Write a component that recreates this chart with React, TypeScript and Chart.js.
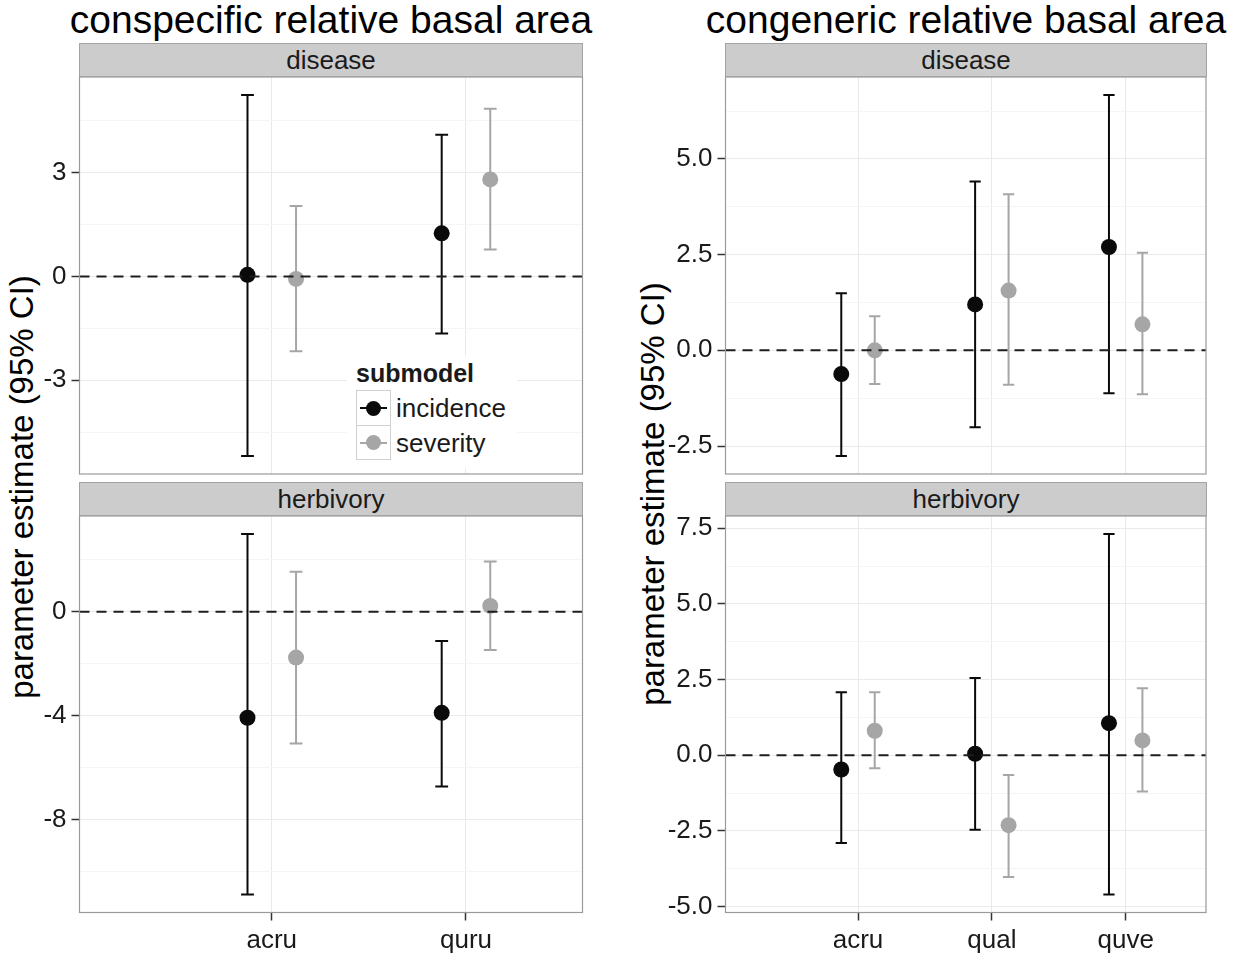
import React, { useEffect, useRef } from 'react';
import { Chart, registerables } from 'chart.js';
Chart.register(...registerables);

const FONT = '"Liberation Sans", Arial, Helvetica, sans-serif';

// ---------- data ----------
const conCats = ['acru', 'quru'];
const congCats = ['acru', 'qual', 'quve'];
const submodels = ['incidence', 'severity'];

// conspecific – disease
const conDisIncEst = [0.05, 1.25];
const conDisIncLo = [-5.19, -1.65];
const conDisIncHi = [5.25, 4.10];
const conDisSevEst = [-0.07, 2.81];
const conDisSevLo = [-2.16, 0.78];
const conDisSevHi = [2.04, 4.85];

// conspecific – herbivory
const conHerIncEst = [-4.08, -3.89];
const conHerIncLo = [-10.89, -6.73];
const conHerIncHi = [3.0, -1.12];
const conHerSevEst = [-1.76, 0.23];
const conHerSevLo = [-5.07, -1.47];
const conHerSevHi = [1.55, 1.94];

// congeneric – disease
const congDisIncEst = [-0.62, 1.2, 2.7];
const congDisIncLo = [-2.76, -2.01, -1.12];
const congDisIncHi = [1.49, 4.41, 6.67];
const congDisSevEst = [0.0, 1.56, 0.68];
const congDisSevLo = [-0.88, -0.9, -1.15];
const congDisSevHi = [0.89, 4.08, 2.55];

// congeneric – herbivory
const congHerIncEst = [-0.47, 0.05, 1.06];
const congHerIncLo = [-2.9, -2.46, -4.6];
const congHerIncHi = [2.08, 2.55, 7.31];
const congHerSevEst = [0.81, -2.31, 0.49];
const congHerSevLo = [-0.43, -4.02, -1.2];
const congHerSevHi = [2.08, -0.65, 2.21];

// tick values / labels
const conDisTicks = [-3, 0, 3];
const conDisTickLabels = ['-3', '0', '3'];
const conDisMinor = [-4.5, -1.5, 1.5, 4.5];
const conHerTicks = [-8, -4, 0];
const conHerTickLabels = ['-8', '-4', '0'];
const conHerMinor = [-10, -6, -2, 2];
const congDisTicks = [-2.5, 0, 2.5, 5];
const congDisTickLabels = ['-2.5', '0.0', '2.5', '5.0'];
const congDisMinor = [-1.25, 1.25, 3.75, 6.25];
const congHerTicks = [-5, -2.5, 0, 2.5, 5, 7.5];
const congHerTickLabels = ['-5.0', '-2.5', '0.0', '2.5', '5.0', '7.5'];
const congHerMinor = [-3.75, -1.25, 1.25, 3.75, 6.25];

// ---------- styles ----------
const BLACK = '#0A0A0A';
const GREY = '#A6A6A6';
const MAJOR = '#EAEAEA';
const MINOR = '#F5F5F5';
const FRAME = '#9A9A9A';
const TEXT = '#1A1A1A';
const DODGE = 0.125;

const errorbarPlugin = {
  id: 'errbars',
  beforeDatasetsDraw(chart: any, _a: any, opts: any) {
    const { ctx } = chart;
    const x = chart.scales.x;
    const y = chart.scales.y;
    chart.data.datasets.forEach((ds: any) => {
      ctx.save();
      ctx.strokeStyle = ds.borderColor;
      ctx.lineWidth = 2;
      ds.data.forEach((p: any, i: number) => {
        const px = x.getPixelForValue(p.x);
        const cw = x.getPixelForValue(p.x + opts.capHalf) - px;
        const yl = y.getPixelForValue(ds.lo[i]);
        const yh = y.getPixelForValue(ds.hi[i]);
        ctx.beginPath();
        ctx.moveTo(px, yl);
        ctx.lineTo(px, yh);
        ctx.moveTo(px - cw, yl);
        ctx.lineTo(px + cw, yl);
        ctx.moveTo(px - cw, yh);
        ctx.lineTo(px + cw, yh);
        ctx.stroke();
      });
      ctx.restore();
    });
  },
};

const zeroLinePlugin = {
  id: 'zeroline',
  afterDatasetsDraw(chart: any) {
    const { ctx, chartArea } = chart;
    const y0 = chart.scales.y.getPixelForValue(0);
    ctx.save();
    ctx.strokeStyle = '#1E1E1E';
    ctx.lineWidth = 2;
    ctx.setLineDash([10, 7]);
    ctx.beginPath();
    ctx.moveTo(chartArea.left, y0);
    ctx.lineTo(chartArea.right, y0);
    ctx.stroke();
    ctx.restore();
  },
};

const framePlugin = {
  id: 'frame',
  afterDraw(chart: any) {
    const { ctx, chartArea } = chart;
    ctx.save();
    ctx.strokeStyle = FRAME;
    ctx.lineWidth = 1.2;
    ctx.strokeRect(chartArea.left, chartArea.top, chartArea.right - chartArea.left, chartArea.bottom - chartArea.top);
    ctx.restore();
  },
};

type FacetProps = {
  cats: string[];
  incEst: number[]; incLo: number[]; incHi: number[];
  sevEst: number[]; sevLo: number[]; sevHi: number[];
  ticks: number[]; tickLabels: string[]; minor: number[];
  showX: boolean;
  capHalf: number;
  left: number; top: number; width: number; height: number;
  yWidth: number; xHeight: number; padTop: number; padBottom: number; padRight: number;
};

function Facet(p: FacetProps) {
  const ref = useRef<HTMLCanvasElement>(null);
  useEffect(() => {
    const all = [...p.incLo, ...p.sevLo, ...p.incHi, ...p.sevHi];
    const lo = Math.min(...all);
    const hi = Math.max(...all);
    const ex = (hi - lo) * 0.05;
    const yTicks = [...p.ticks, ...p.minor].sort((a, b) => a - b);
    const isMajor = (v: number) => p.ticks.some((t) => Math.abs(t - v) < 1e-9);
    const mk = (est: number[], lo: number[], hi: number[], off: number, color: string, label: string) => ({
      label,
      data: p.cats.map((_, i) => ({ x: i + 1 + off, y: est[i] })),
      lo,
      hi,
      backgroundColor: color,
      borderColor: color,
      pointRadius: 8,
      pointBorderWidth: 0,
      pointHoverRadius: 8,
    });
    const chart = new Chart(ref.current as HTMLCanvasElement, {
      type: 'scatter',
      data: {
        datasets: [
          mk(p.incEst, p.incLo, p.incHi, -DODGE, BLACK, submodels[0]),
          mk(p.sevEst, p.sevLo, p.sevHi, DODGE, GREY, submodels[1]),
        ] as any,
      },
      options: {
        animation: false,
        responsive: false,
        events: [],
        layout: { padding: { left: 0, right: p.padRight, top: p.padTop, bottom: p.padBottom } },
        plugins: {
          legend: { display: false },
          tooltip: { enabled: false },
          errbars: { capHalf: p.capHalf },
        } as any,
        scales: {
          x: {
            type: 'linear',
            bounds: 'data',
            min: 0.01,
            max: p.cats.length + 0.6,
            afterBuildTicks: (s: any) => {
              s.ticks = p.cats.map((_, i) => ({ value: i + 1 }));
            },
            afterFit: (s: any) => {
              s.height = p.xHeight;
            },
            ticks: {
              display: p.showX,
              autoSkip: false,
              maxRotation: 0,
              padding: 5,
              color: TEXT,
              font: { family: FONT, size: 26 },
              callback: (v: any) => p.cats[Math.round(Number(v)) - 1],
            },
            grid: {
              color: MAJOR,
              lineWidth: 1,
              drawTicks: p.showX,
              tickLength: 8,
              tickColor: '#333333',
              tickWidth: 1.5,
            },
            border: { display: false },
          },
          y: {
            type: 'linear',
            bounds: 'data',
            min: lo - ex,
            max: hi + ex,
            afterBuildTicks: (s: any) => {
              s.ticks = yTicks.map((v) => ({ value: v }));
            },
            afterFit: (s: any) => {
              s.width = p.yWidth;
            },
            ticks: {
              autoSkip: false,
              padding: 5,
              color: TEXT,
              font: { family: FONT, size: 26 },
              callback: (v: any) => {
                const i = p.ticks.findIndex((t) => Math.abs(t - Number(v)) < 1e-9);
                return i >= 0 ? p.tickLabels[i] : '';
              },
            },
            grid: {
              color: (c: any) => (isMajor(c.tick.value) ? MAJOR : MINOR),
              tickColor: (c: any) => (isMajor(c.tick.value) ? '#333333' : 'rgba(0,0,0,0)'),
              tickLength: 8,
              tickWidth: 1.5,
              lineWidth: 1,
            },
            border: { display: false },
          },
        } as any,
      },
      plugins: [errorbarPlugin, zeroLinePlugin, framePlugin],
    });
    return () => chart.destroy();
  }, []);
  return (
    <canvas
      ref={ref}
      width={p.width}
      height={p.height}
      style={{ position: 'absolute', left: p.left, top: p.top, width: p.width, height: p.height }}
    />
  );
}

function Strip({ left, top, width, text }: { left: number; top: number; width: number; text: string }) {
  return (
    <div
      style={{
        position: 'absolute', left, top, width, height: 34, boxSizing: 'border-box',
        background: '#CCCCCC', border: '1px solid #A3A3A3', display: 'flex',
        alignItems: 'center', justifyContent: 'center', fontFamily: FONT, fontSize: 26,
        color: TEXT, zIndex: 2, lineHeight: 1,
      }}
    >
      {text}
    </div>
  );
}

function Key({ top, color, label, h }: { top: number; color: string; label: string; h: number }) {
  return (
    <>
      <div
        style={{
          position: 'absolute', left: 356, top, width: 35, height: h, boxSizing: 'border-box',
          border: '1px solid #D0D0D0', background: '#fff',
        }}
      >
        <div style={{ position: 'absolute', left: 3, top: h / 2 - 2, width: 27, height: 2, background: color }} />
        <div style={{ position: 'absolute', left: 9, top: h / 2 - 8.5, width: 15, height: 15, borderRadius: '50%', background: color }} />
      </div>
      <div
        style={{
          position: 'absolute', left: 396, top, height: h, display: 'flex', alignItems: 'center',
          fontFamily: FONT, fontSize: 26, color: TEXT, lineHeight: 1, whiteSpace: 'nowrap',
        }}
      >
        {label}
      </div>
    </>
  );
}

export default function App() {
  const title = (cx: number, text: string) => (
    <div
      style={{
        position: 'absolute', left: cx - 320, width: 640, top: 0, textAlign: 'center',
        fontFamily: FONT, fontSize: 39, lineHeight: 1, color: '#000', whiteSpace: 'nowrap',
      }}
    >
      {text}
    </div>
  );
  const yTitle = (cx: number, cy: number) => (
    <div
      style={{
        position: 'absolute', left: cx, top: cy, transform: 'translate(-50%, -50%) rotate(-90deg)',
        fontFamily: FONT, fontSize: 33, lineHeight: 1, color: '#000', whiteSpace: 'nowrap',
      }}
    >
      parameter estimate (95% CI)
    </div>
  );
  return (
    <div style={{ position: 'fixed', left: 0, top: 0, width: 1239, height: 953, background: '#fff', overflow: 'hidden' }}>
      {title(331, 'conspecific relative basal area')}
      {title(966, 'congeneric relative basal area')}
      {yTitle(21, 487)}
      {yTitle(652, 494)}

      <Facet
        cats={conCats}
        incEst={conHerIncEst} incLo={conHerIncLo} incHi={conHerIncHi}
        sevEst={conHerSevEst} sevLo={conHerSevLo} sevHi={conHerSevHi}
        ticks={conHerTicks} tickLabels={conHerTickLabels} minor={conHerMinor}
        showX={true} capHalf={0.033}
        left={0} top={482} width={600} height={471}
        yWidth={79.5} xHeight={40.5} padTop={34} padBottom={0} padRight={17.5}
      />
      <Facet
        cats={congCats}
        incEst={congHerIncEst} incLo={congHerIncLo} incHi={congHerIncHi}
        sevEst={congHerSevEst} sevLo={congHerSevLo} sevHi={congHerSevHi}
        ticks={congHerTicks} tickLabels={congHerTickLabels} minor={congHerMinor}
        showX={true} capHalf={0.042}
        left={620} top={482} width={619} height={471}
        yWidth={105.5} xHeight={40.5} padTop={34} padBottom={0} padRight={33}
      />
      <Facet
        cats={conCats}
        incEst={conDisIncEst} incLo={conDisIncLo} incHi={conDisIncHi}
        sevEst={conDisSevEst} sevLo={conDisSevLo} sevHi={conDisSevHi}
        ticks={conDisTicks} tickLabels={conDisTickLabels} minor={conDisMinor}
        showX={false} capHalf={0.033}
        left={0} top={43} width={600} height={457}
        yWidth={79.5} xHeight={0} padTop={34} padBottom={26} padRight={17.5}
      />
      <Facet
        cats={congCats}
        incEst={congDisIncEst} incLo={congDisIncLo} incHi={congDisIncHi}
        sevEst={congDisSevEst} sevLo={congDisSevLo} sevHi={congDisSevHi}
        ticks={congDisTicks} tickLabels={congDisTickLabels} minor={congDisMinor}
        showX={false} capHalf={0.042}
        left={620} top={43} width={619} height={457}
        yWidth={105.5} xHeight={0} padTop={34} padBottom={26} padRight={33}
      />

      <Strip left={79} top={43} width={504} text="disease" />
      <Strip left={79} top={482} width={504} text="herbivory" />
      <Strip left={725} top={43} width={482} text="disease" />
      <Strip left={725} top={482} width={482} text="herbivory" />

      {/* legend */}
      <div style={{ position: 'absolute', left: 347, top: 356, width: 170, height: 112, background: '#fff', zIndex: 3 }}>
        <div style={{ position: 'relative', left: -347, top: -356 }}>
          <div
            style={{
              position: 'absolute', left: 356, top: 361, fontFamily: FONT, fontSize: 25, fontWeight: 'bold',
              lineHeight: 1, color: TEXT, whiteSpace: 'nowrap',
            }}
          >
            submodel
          </div>
          <Key top={390} h={36} color={BLACK} label={submodels[0]} />
          <Key top={425} h={35} color={GREY} label={submodels[1]} />
        </div>
      </div>
    </div>
  );
}
